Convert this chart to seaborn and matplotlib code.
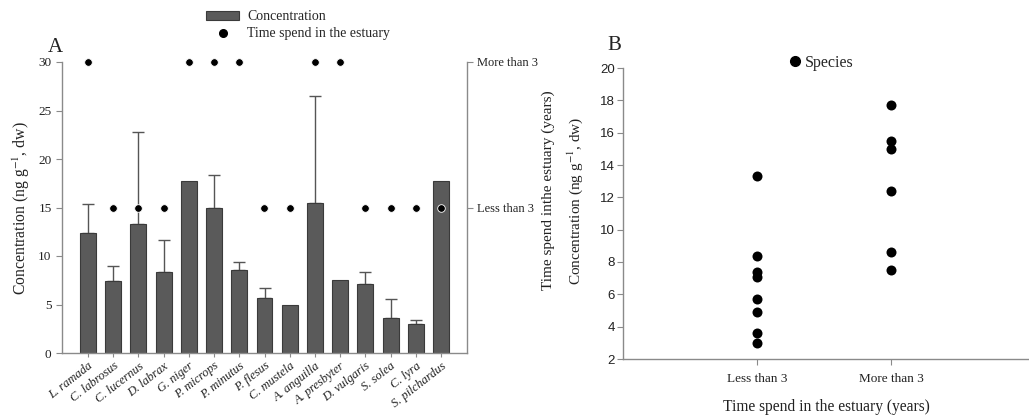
import numpy as np
import pandas as pd
import matplotlib
matplotlib.use("Agg")
import matplotlib.pyplot as plt
import seaborn as sns
from matplotlib.patches import Patch
from matplotlib.lines import Line2D

# Panel A: mean concentration per species, upper SD, and residence class
species = ["L. ramada", "C. labrosus", "C. lucernus", "D. labrax", "G. niger",
           "P. microps", "P. minutus", "P. flesus", "C. mustela", "A. anguilla",
           "A. presbyter", "D. vulgaris", "S. solea", "C. lyra", "S. pilchardus"]
concentration = [12.4, 7.4, 13.3, 8.4, 17.7, 15.0, 8.6, 5.7, 4.9, 15.5, 7.5, 7.1, 3.6, 3.0, 17.7]
sd_upper = [3.0, 1.6, 9.5, 3.3, 0.0, 3.3, 0.8, 0.95, 0.0, 11.0, 0.0, 1.2, 1.95, 0.45, 0.0]
time_class = ["More than 3", "Less than 3", "Less than 3", "Less than 3", "More than 3",
              "More than 3", "More than 3", "Less than 3", "Less than 3", "More than 3",
              "More than 3", "Less than 3", "Less than 3", "Less than 3", "Less than 3"]
time_levels = ["Less than 3", "More than 3"]

# Panel B: concentrations grouped by residence class
less_than_3 = [13.3, 8.4, 7.4, 7.1, 5.7, 4.9, 3.6, 3.0]
more_than_3 = [17.7, 15.5, 15.0, 12.4, 8.6, 7.5]

sns.set_theme(style="white")
serif = ["Liberation Serif", "DejaVu Serif"]
plt.rcParams["font.family"] = serif
plt.rcParams["mathtext.fontset"] = "stix"

fig = plt.figure(figsize=(10.29, 4.18), dpi=100)
W, H = 1029, 418

spine_col = "#8a8a8a"
bar_col = "#5a5a5a"
text_col = "#222222"

# ---------------- Panel A ----------------
axA = fig.add_axes([62 / W, 1 - 353 / H, (467 - 62) / W, (353 - 62) / H])
dfA = pd.DataFrame({"species": species, "conc": concentration, "sd": sd_upper,
                    "time": time_class})
sns.barplot(data=dfA, x="species", y="conc", order=species, color=bar_col,
            width=0.63, edgecolor="#3a3a3a", linewidth=0.8, saturation=1,
            errorbar=None, ax=axA, zorder=2)
xs = np.arange(len(species))
sd = np.array(sd_upper)
mask = sd > 0
axA.errorbar(xs[mask], np.array(concentration)[mask],
             yerr=[np.zeros(mask.sum()), sd[mask]], fmt="none",
             ecolor="#555555", elinewidth=1.0, capsize=4, capthick=1.0, zorder=1)
axA.set_xlim(-1.03, 15.03)
axA.set_ylim(0, 30)
axA.set_yticks([0, 5, 10, 15, 20, 25, 30])
axA.set_xlabel("")
axA.set_ylabel("Concentration (ng g$^{-1}$, dw)", fontsize=11.3, color=text_col)
axA.yaxis.set_label_coords(-0.075, 0.5 - (208 - 207.5) / 291)
axA.set_xticks(xs)
axA.set_xticklabels(species, rotation=38, ha="right", rotation_mode="anchor",
                    style="italic", fontsize=9, color=text_col)
axA.tick_params(axis="y", labelsize=9.5, colors=text_col, length=4, width=0.8,
                color=spine_col, left=True, direction="out")
axA.tick_params(axis="x", length=3, width=0.8, color=spine_col, bottom=True,
                direction="out", pad=2)
for s in ["top", "right"]:
    axA.spines[s].set_visible(False)
for s in ["left", "bottom"]:
    axA.spines[s].set_color(spine_col)
    axA.spines[s].set_linewidth(1.0)

# Residence class on the right axis
axT = axA.twinx()
dfA["time_code"] = [time_levels.index(t) + 1 for t in time_class]
sns.scatterplot(x=xs, y=dfA["time_code"], ax=axT, color="black", s=30,
                edgecolor="white", linewidth=0.6, zorder=5, clip_on=False,
                legend=False)
axT.set_ylim(0, 2)
axT.set_yticks([1, 2])
axT.set_yticklabels(time_levels, fontsize=9, color=text_col)
axT.set_ylabel("")
axT.tick_params(axis="y", length=4, width=0.8, color=spine_col, right=True,
                direction="out", pad=3)
for s in ["top", "left", "bottom"]:
    axT.spines[s].set_visible(False)
axT.spines["right"].set_color(spine_col)
axT.spines["right"].set_linewidth(1.0)

handles = [Patch(facecolor=bar_col, edgecolor="#3a3a3a", linewidth=0.8),
           Line2D([], [], marker="o", color="black", linestyle="none", markersize=5.5)]
axA.legend(handles, ["Concentration", "Time spend in the estuary"],
           loc="upper left", bbox_to_anchor=(206 / W, 1 - 10 / H),
           bbox_transform=fig.transFigure, frameon=False, fontsize=10,
           handlelength=2.4, handleheight=0.6, handletextpad=0.55,
           labelspacing=0.3, borderaxespad=0, borderpad=0)
fig.text(48 / W, 1 - 47 / H, "A", fontsize=15, color=text_col, va="center")

# ---------------- Panel B ----------------
axB = fig.add_axes([623 / W, 1 - 359 / H, (1029 - 623) / W, (359 - 68) / H])
dfB = pd.DataFrame({
    "time": ["Less than 3"] * len(less_than_3) + ["More than 3"] * len(more_than_3),
    "conc": less_than_3 + more_than_3,
})
sns.stripplot(data=dfB, x="time", y="conc", order=time_levels, jitter=False,
              color="black", size=7.2, linewidth=0, ax=axB, label="Species",
              zorder=3)
axB.set_xlim(-1.0, 2.03)
axB.set_ylim(2, 20)
axB.set_yticks(np.arange(2, 21, 2))
axB.set_yticklabels([str(v) for v in range(2, 21, 2)],
                    family=["Liberation Sans", "DejaVu Sans"], fontsize=9.5)
axB.set_xlabel("Time spend in the estuary (years)", fontsize=11.2,
               color=text_col, labelpad=10)
axB.set_ylabel("")
axB.tick_params(axis="x", labelsize=9.5, colors=text_col, length=4, width=0.8,
                color=spine_col, bottom=True, direction="out", pad=6)
axB.tick_params(axis="y", colors=text_col, length=4, width=0.8,
                color=spine_col, left=True, direction="out", pad=2)
for s in ["top", "right"]:
    axB.spines[s].set_visible(False)
for s in ["left", "bottom"]:
    axB.spines[s].set_color(spine_col)
    axB.spines[s].set_linewidth(1.0)

hB = [Line2D([], [], marker="o", color="black", linestyle="none", markersize=7)]
axB.legend(hB, ["Species"], loc="center left",
           bbox_to_anchor=(789 / W, 1 - 63 / H), bbox_transform=fig.transFigure,
           frameon=False, fontsize=11.5, handlelength=0.7, handletextpad=0.3,
           borderaxespad=0, borderpad=0)

fig.text(548 / W, 1 - 190 / H, "Time spend inthe estuary (years)", rotation=90,
         fontsize=11, color=text_col, ha="center", va="center")
fig.text(575 / W, 1 - 201 / H, "Concentration (ng g$^{-1}$, dw)", rotation=90,
         fontsize=11, color=text_col, ha="center", va="center")
fig.text(607 / W, 1 - 45 / H, "B", fontsize=15, color=text_col, va="center")

fig.savefig("out.png", dpi=100, facecolor="white")
